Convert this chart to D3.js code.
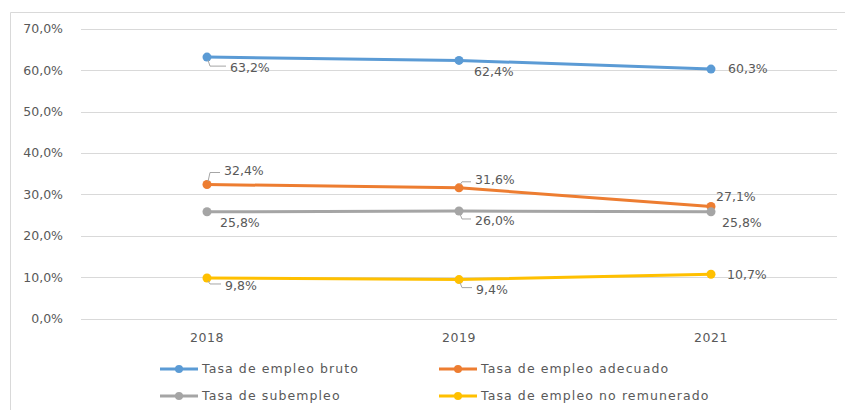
<!DOCTYPE html>
<html>
<head>
  <meta charset="utf-8">
  <script src="https://d3js.org/d3.v7.min.js"></script>
  <style>
    body { margin: 0; background: #fff; }
    text { font-family: "DejaVu Sans", Verdana, sans-serif; fill: #595959; }
  </style>
</head>
<body>
  <div id="chart"></div>
  <script>
  const years = ["2018", "2019", "2021"];
  const seriesNames = ["Tasa de empleo bruto", "Tasa de empleo adecuado", "Tasa de subempleo", "Tasa de empleo no remunerado"];
  const bruto = [63.2, 62.4, 60.3];
  const adecuado = [32.4, 31.6, 27.1];
  const subempleo = [25.8, 26.0, 25.8];
  const noRemunerado = [9.8, 9.4, 10.7];
  const yTicks = [0, 10, 20, 30, 40, 50, 60, 70];

  const colors = ["#5b9bd5", "#ed7d31", "#a5a5a5", "#ffc000"];
  // label placement (dx, dy from point to left/middle of text) and whether a leader line is drawn
  const labelPos = [
    [[23, 11, true], [15, 11, false], [17, 0, false]],
    [[17, -14, true], [16, -8, true], [5, -10, false]],
    [[13, 11, false], [16, 10, true], [11, 11, false]],
    [[18, 8, true], [17, 10, true], [16, 0, false]]
  ];

  const series = [bruto, adecuado, subempleo, noRemunerado].map((vals, i) => ({
    name: seriesNames[i], color: colors[i], values: vals, labels: labelPos[i]
  }));

  const W = 845, H = 410;
  const fmt = v => d3.format(".1f")(v).replace(".", ",") + "%";

  const svg = d3.select("#chart").append("svg")
    .attr("width", W).attr("height", H);

  // chart frame (only top and left edges visible)
  svg.append("path")
    .attr("d", `M10.5,${H} L10.5,12.5 L${W},12.5`)
    .attr("fill", "none").attr("stroke", "#d9d9d9");

  const x = d3.scaleBand().domain(years).range([81, 837]).padding(0);
  const y = d3.scaleLinear().domain([0, 70]).range([318.5, 29]);
  const cx = d => x(d) + x.bandwidth() / 2;

  // gridlines
  svg.append("g").selectAll("line").data(yTicks).enter().append("line")
    .attr("x1", 81).attr("x2", 837)
    .attr("y1", d => Math.round(y(d)) + 0.5).attr("y2", d => Math.round(y(d)) + 0.5)
    .attr("stroke", "#d9d9d9");

  // y axis labels
  svg.append("g").selectAll("text").data(yTicks).enter().append("text")
    .attr("x", 63).attr("y", d => y(d)).attr("dy", "0.35em")
    .attr("text-anchor", "end").style("font-size", "12.5px")
    .text(d => fmt(d));

  // x axis labels
  svg.append("g").selectAll("text").data(years).enter().append("text")
    .attr("x", d => cx(d)).attr("y", 338).attr("dy", "0.35em")
    .attr("text-anchor", "middle").style("font-size", "12.5px")
    .style("letter-spacing", "0.5px")
    .text(d => d);

  const line = d3.line().x((d, i) => cx(years[i])).y(d => y(d));

  const g = svg.append("g").selectAll("g").data(series).enter().append("g");

  g.append("path")
    .attr("d", d => line(d.values))
    .attr("fill", "none").attr("stroke", d => d.color)
    .attr("stroke-width", 3).attr("stroke-linecap", "round");

  g.selectAll("circle").data(d => d.values.map((v, i) => ({ v, i, c: d.color }))).enter()
    .append("circle")
    .attr("cx", d => cx(years[d.i])).attr("cy", d => y(d.v))
    .attr("r", 4.5).attr("fill", d => d.c);

  // data labels with leader lines
  g.each(function (s) {
    const sg = d3.select(this);
    s.values.forEach((v, i) => {
      const [dx, dy, leader] = s.labels[i];
      const px = cx(years[i]), py = y(v);
      const tx = px + dx, ty = py + dy;
      if (leader) {
        const ly = ty + (dy > 0 ? -2 : 2);
        sg.append("path")
          .attr("d", `M${px + 1},${py + (dy > 0 ? 3 : -3)} L${px + 3},${ly} L${tx - 4},${ly}`)
          .attr("fill", "none").attr("stroke", "#a6a6a6").attr("stroke-width", 1);
      }
      sg.append("text")
        .attr("x", tx).attr("y", ty).attr("dy", "0.35em")
        .style("font-size", "12.5px")
        .text(fmt(v));
    });
  });

  // legend
  const legendPos = [[160, 369], [439, 369], [160, 396], [439, 396]];
  const lg = svg.append("g").selectAll("g").data(series).enter().append("g")
    .attr("transform", (d, i) => `translate(${legendPos[i][0]},${legendPos[i][1]})`);
  lg.append("line").attr("x1", 0).attr("x2", 38).attr("y1", 0).attr("y2", 0)
    .attr("stroke", d => d.color).attr("stroke-width", 3);
  lg.append("circle").attr("cx", 19).attr("cy", 0).attr("r", 4).attr("fill", d => d.color);
  lg.append("text").attr("x", 42).attr("y", 0).attr("dy", "0.35em")
    .style("font-size", "12.5px").style("letter-spacing", "1.1px")
    .text(d => d.name);
  </script>
</body>
</html>
